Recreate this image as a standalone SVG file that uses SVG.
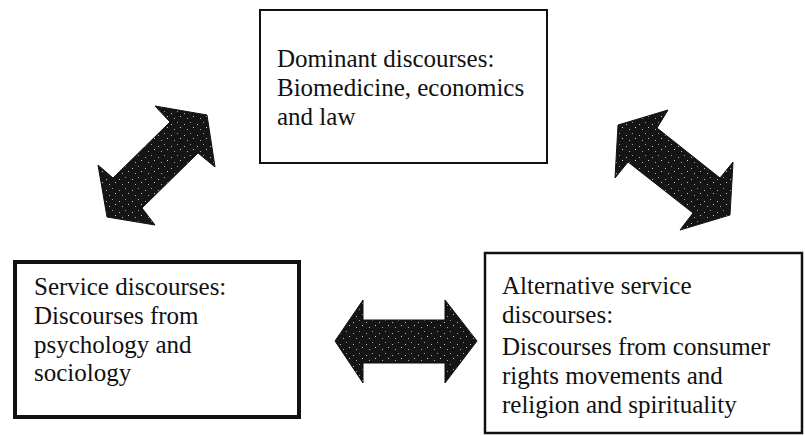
<svg xmlns="http://www.w3.org/2000/svg" width="805" height="436" viewBox="0 0 805 436">
  <style>
    .box { fill: #ffffff; stroke: #111111; }
    .txt { font-family: "Liberation Serif", "Times New Roman", serif; font-size: 25px; fill: #111111; }
    .arrow { fill: url(#speckle); stroke: #111111; stroke-width: 1; stroke-linejoin: miter; }
  </style>
  <defs>
    <pattern id="speckle" width="13" height="11" patternUnits="userSpaceOnUse">
      <rect width="13" height="11" fill="#151515"/>
      <rect x="2" y="3" width="1" height="1" fill="#bbbbbb"/>
      <rect x="8" y="1" width="1" height="1" fill="#999999"/>
      <rect x="5" y="8" width="1" height="1" fill="#aaaaaa"/>
      <rect x="11" y="6" width="1" height="1" fill="#cccccc"/>
    </pattern>
  </defs>
  <rect width="805" height="436" fill="#ffffff"/>

  <g id="connectors">
    <polygon class="arrow" points="207,115 215,167 198,153 142,208 155,225 107,217 98,165 113,178 170,122 155,106"/>
    <polygon class="arrow" points="618,125 668,110 657,128 720,178 733,162 730,215 680,230 693,213 628,162 615,178"/>
    <polygon class="arrow" points="335,341 363,300 363,320 445,320 445,300 477,341 445,383 445,363 363,363 363,383"/>
  </g>

  <g id="dominant">
    <rect class="box" x="260" y="10" width="287" height="153" stroke-width="2"/>
    <text class="txt" x="277" y="67">Dominant discourses:</text>
    <text class="txt" x="277" y="96">Biomedicine, economics</text>
    <text class="txt" x="277" y="125">and law</text>
  </g>

  <g id="service">
    <rect class="box" x="15" y="262" width="284" height="155" stroke-width="4"/>
    <text class="txt" x="34" y="295">Service discourses:</text>
    <text class="txt" x="34" y="324">Discourses from</text>
    <text class="txt" x="34" y="353">psychology and</text>
    <text class="txt" x="34" y="381">sociology</text>
  </g>

  <g id="alternative">
    <rect class="box" x="485" y="253" width="317" height="180" stroke-width="2.5"/>
    <text class="txt" x="502" y="294">Alternative service</text>
    <text class="txt" x="502" y="323">discourses:</text>
    <text class="txt" x="502" y="355">Discourses from consumer</text>
    <text class="txt" x="502" y="384">rights movements and</text>
    <text class="txt" x="502" y="413">religion and spirituality</text>
  </g>
</svg>
